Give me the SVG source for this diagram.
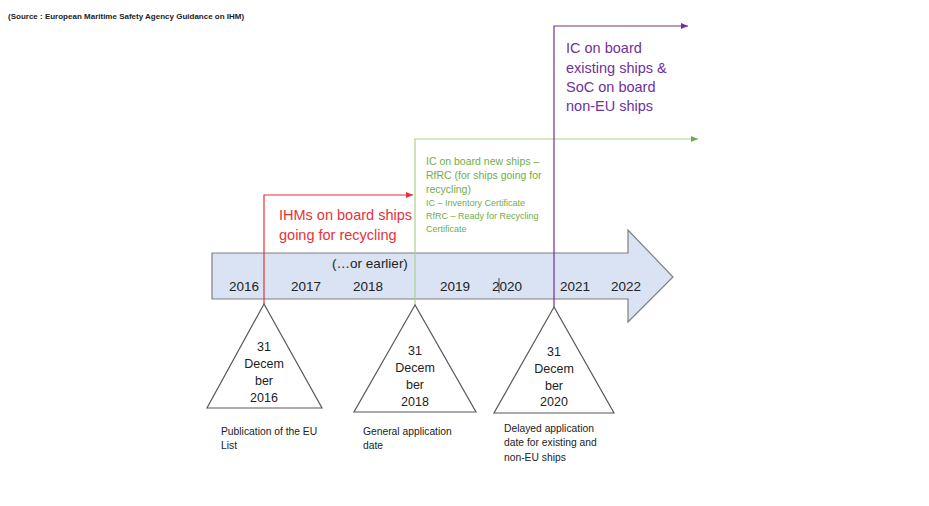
<svg xmlns="http://www.w3.org/2000/svg" width="929" height="506" viewBox="0 0 929 506">
<style>
text{font-family:"Liberation Sans",Arial,sans-serif;fill:#222}
.yr{font-size:13.5px}
.tri{fill:#fff;stroke:#595959;stroke-width:1.2}
.tt{font-size:12.5px;text-anchor:middle}
.cap{font-size:10.3px}
.red{fill:#e5323a}
.grn{fill:#70ad47}
.pur{fill:#7030a0}
</style>
<defs>
<marker id="mr" markerWidth="8" markerHeight="8" refX="7" refY="4" orient="auto" markerUnits="userSpaceOnUse"><path d="M0,1 L7,4 L0,7 z" fill="#e5323a"/></marker>
<marker id="mg" markerWidth="8" markerHeight="8" refX="7" refY="4" orient="auto" markerUnits="userSpaceOnUse"><path d="M0,1 L7,4 L0,7 z" fill="#70ad47"/></marker>
<marker id="mp" markerWidth="8" markerHeight="8" refX="7" refY="4" orient="auto" markerUnits="userSpaceOnUse"><path d="M0,1 L7,4 L0,7 z" fill="#7030a0"/></marker>
</defs>
<rect width="929" height="506" fill="#fff"/>
<text x="8" y="19" style="font-size:8px;font-weight:bold">(Source : European Maritime Safety Agency Guidance on IHM)</text>
<g id="timeline">
<path d="M212,253 L628,253 L628,230 L673,277 L628,322 L628,299 L212,299 Z" fill="#dae3f3" stroke="#7f7f7f" stroke-width="1.2"/>
<text class="yr" x="244" y="291" text-anchor="middle">2016</text>
<text class="yr" x="306" y="291" text-anchor="middle">2017</text>
<text class="yr" x="368" y="291" text-anchor="middle">2018</text>
<text class="yr" x="455" y="291" text-anchor="middle">2019</text>
<text class="yr" x="507" y="291" text-anchor="middle">2020</text>
<line x1="499" y1="278" x2="499" y2="293" stroke="#222" stroke-width="0.8"/>
<text class="yr" x="575" y="291" text-anchor="middle">2021</text>
<text class="yr" x="626" y="291" text-anchor="middle">2022</text>
<text class="yr" x="370" y="268" text-anchor="middle">(…or earlier)</text>
</g>
<g id="connectors" fill="none" stroke-width="1.2">
<polyline points="264,304 264,195 413,195" stroke="#e5323a" marker-end="url(#mr)"/>
<polyline points="415,305 415,139 698,139" stroke="#a9d18e" marker-end="url(#mg)"/>
<polyline points="554,307 554,26 688,26" stroke="#7030a0" marker-end="url(#mp)"/>
</g>
<g id="label-ihm">
<text class="red" x="279" y="220" style="font-size:14.5px">IHMs on board ships</text>
<text class="red" x="279" y="240" style="font-size:14.5px">going for recycling</text>
</g>
<g id="label-ic-new">
<text class="grn" x="426" y="165" style="font-size:10.5px">IC on board new ships –</text>
<text class="grn" x="426" y="179" style="font-size:10.5px">RfRC (for ships going for</text>
<text class="grn" x="426" y="193" style="font-size:10.5px">recycling)</text>
<text class="grn" x="426" y="206" style="font-size:9px">IC – Inventory Certificate</text>
<text class="grn" x="426" y="219" style="font-size:9px">RfRC – Ready for Recycling</text>
<text class="grn" x="426" y="232" style="font-size:9px">Certificate</text>
</g>
<g id="label-ic-existing">
<text class="pur" x="566" y="53" style="font-size:14.5px">IC on board</text>
<text class="pur" x="566" y="73" style="font-size:14.5px">existing ships &amp;</text>
<text class="pur" x="566" y="92" style="font-size:14.5px">SoC on board</text>
<text class="pur" x="566" y="111" style="font-size:14.5px">non-EU ships</text>
</g>
<g id="milestone-2016">
<polygon class="tri" points="264,304 207,408 322,408"/>
<text class="tt" x="264" y="351">31</text>
<text class="tt" x="264" y="368">Decem</text>
<text class="tt" x="264" y="385">ber</text>
<text class="tt" x="264" y="402">2016</text>
<text class="cap" x="221" y="435">Publication of the EU</text>
<text class="cap" x="221" y="449">List</text>
</g>
<g id="milestone-2018">
<polygon class="tri" points="415,305 354,412 476,412"/>
<text class="tt" x="415" y="355">31</text>
<text class="tt" x="415" y="372">Decem</text>
<text class="tt" x="415" y="389">ber</text>
<text class="tt" x="415" y="406">2018</text>
<text class="cap" x="363" y="435">General application</text>
<text class="cap" x="363" y="449">date</text>
</g>
<g id="milestone-2020">
<polygon class="tri" points="554,307 494,413 614,413"/>
<text class="tt" x="554" y="356">31</text>
<text class="tt" x="554" y="373">Decem</text>
<text class="tt" x="554" y="390">ber</text>
<text class="tt" x="554" y="406">2020</text>
<text class="cap" x="504" y="432">Delayed application</text>
<text class="cap" x="504" y="446">date for existing and</text>
<text class="cap" x="504" y="461">non-EU ships</text>
</g>
</svg>
